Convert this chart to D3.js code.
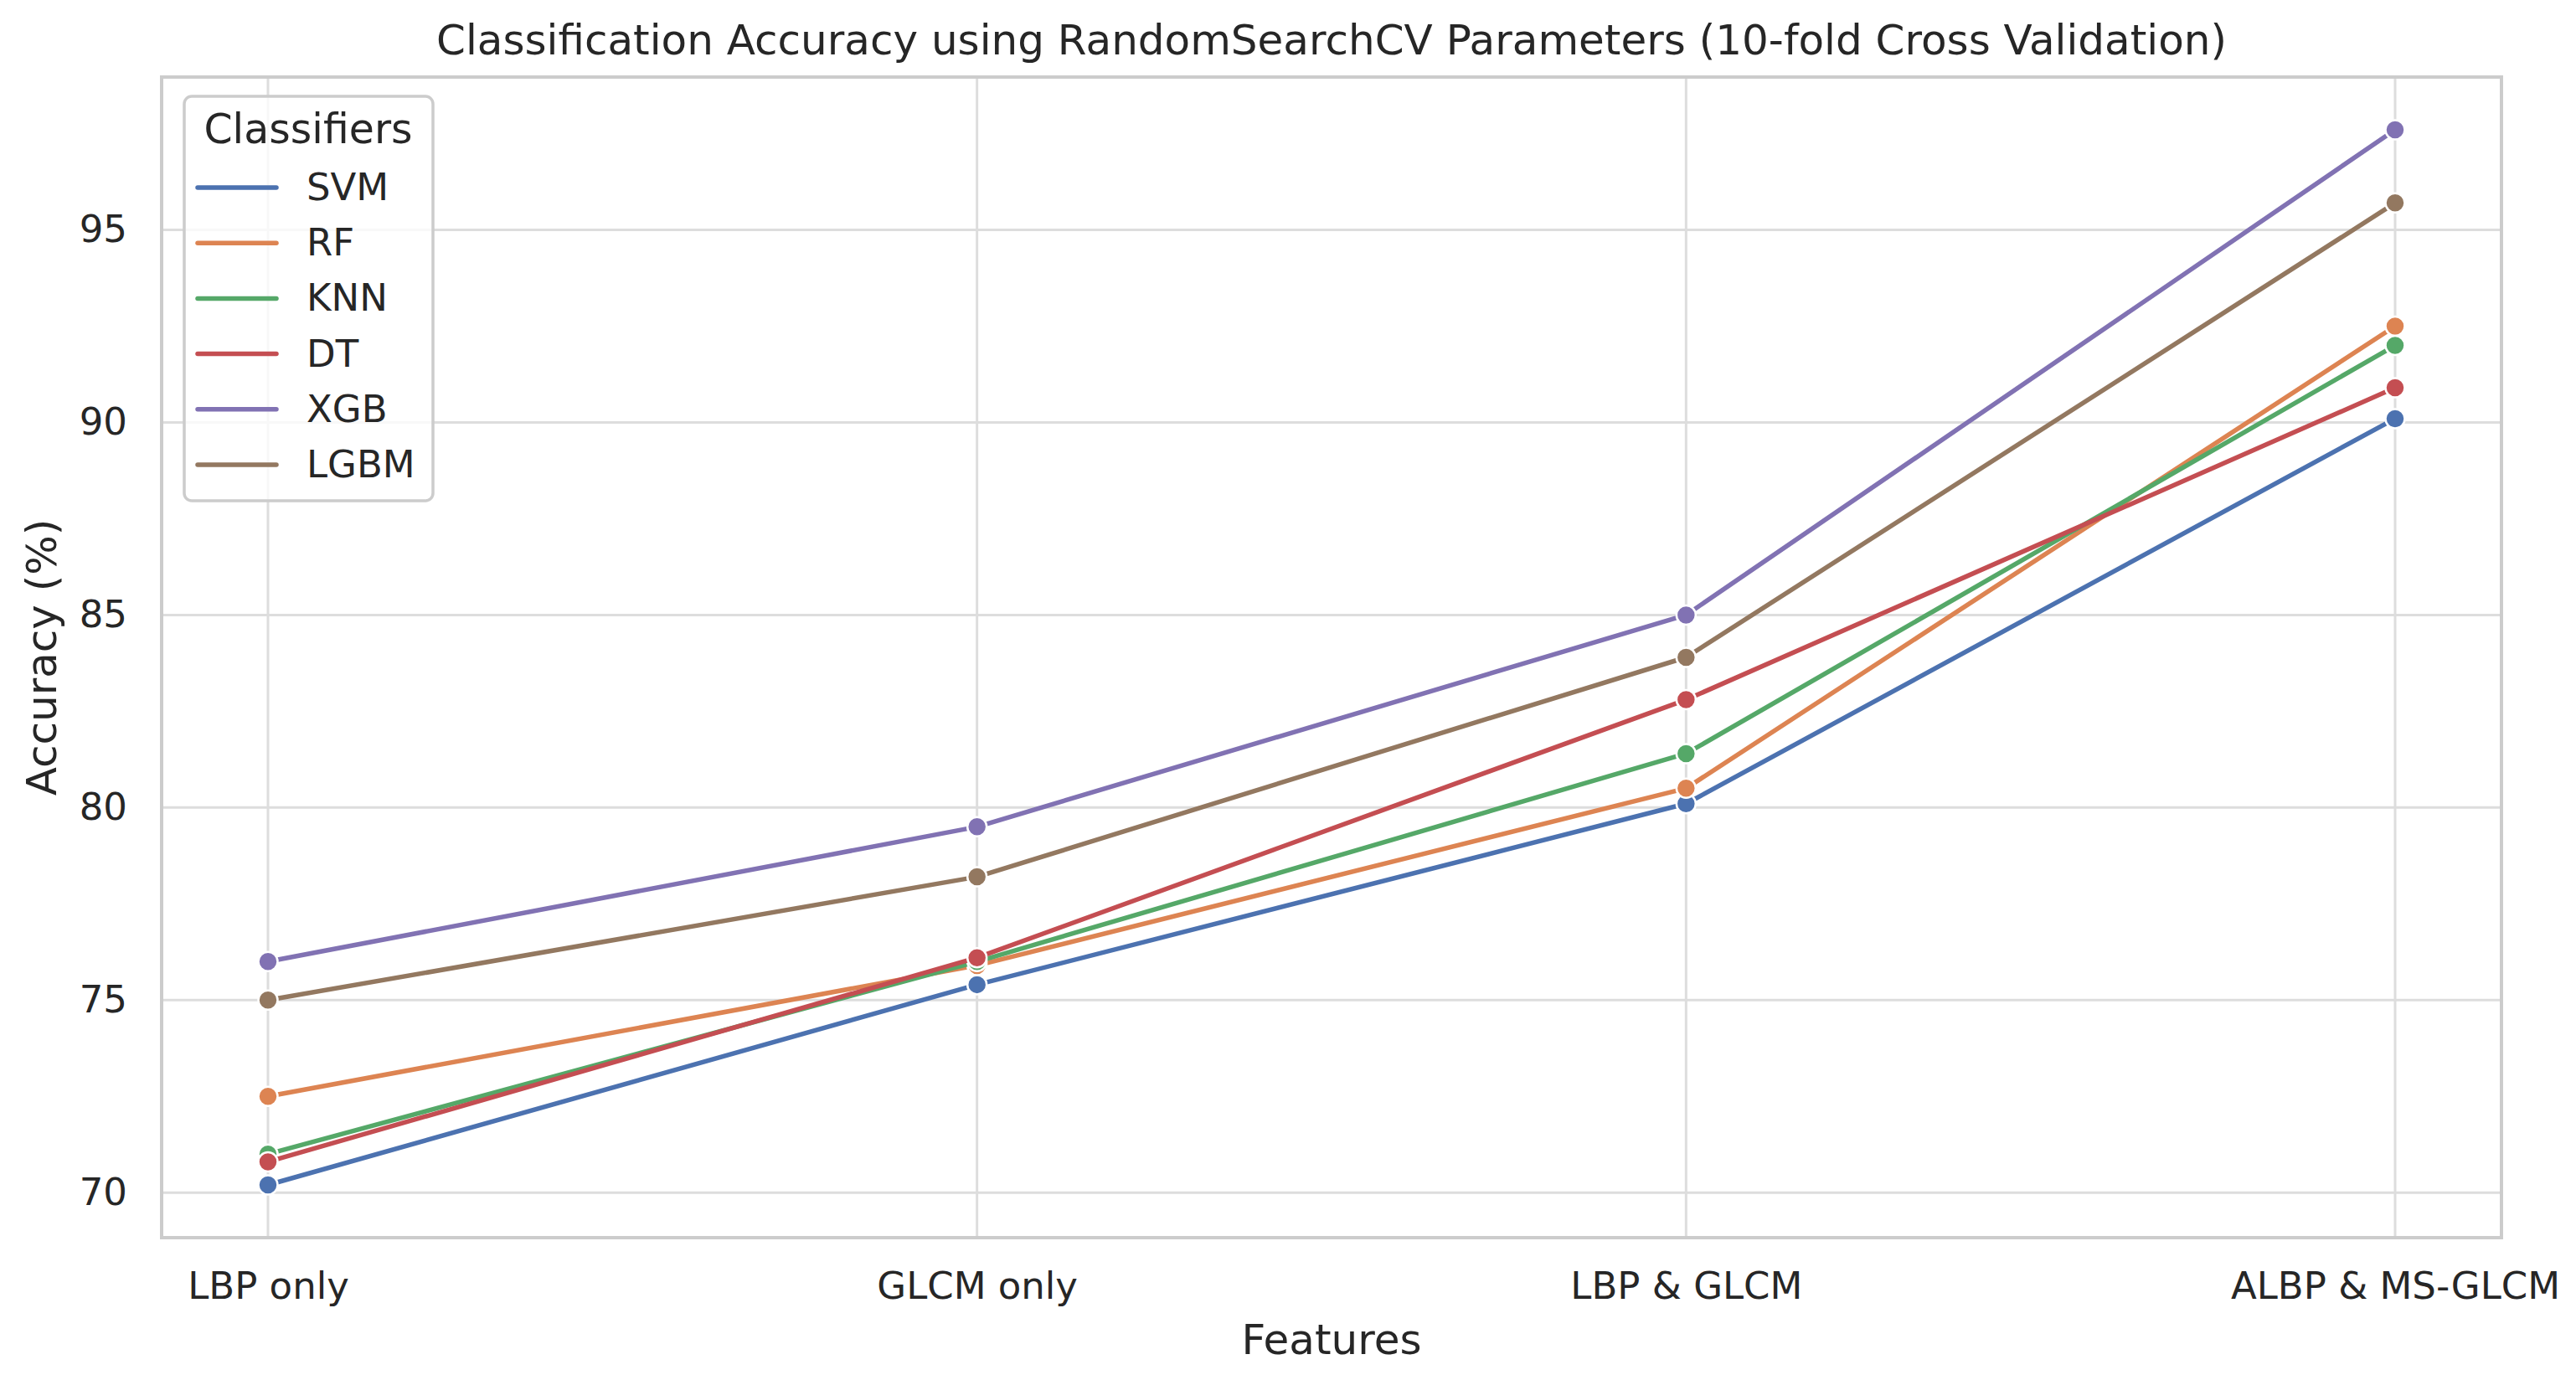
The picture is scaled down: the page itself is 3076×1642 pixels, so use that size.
<!DOCTYPE html>
<html>
<head>
<meta charset="utf-8">
<script src="https://cdn.jsdelivr.net/npm/d3@7"></script>
<style>
  html, body { margin: 0; padding: 0; background: #ffffff; }
  svg { display: block; }
  text { font-family: "DejaVu Sans", sans-serif; fill: #262626; }
</style>
</head>
<body>
<svg id="chart" width="3076" height="1642"></svg>
<script>
const categories = ["LBP only", "GLCM only", "LBP & GLCM", "ALBP & MS-GLCM"];
const seriesNames = ["SVM", "RF", "KNN", "DT", "XGB", "LGBM"];
const svmValues  = [70.2, 75.4, 80.1, 90.1];
const rfValues   = [72.5, 75.9, 80.5, 92.5];
const knnValues  = [71.0, 76.0, 81.4, 92.0];
const dtValues   = [70.8, 76.1, 82.8, 90.9];
const xgbValues  = [76.0, 79.5, 85.0, 97.6];
const lgbmValues = [75.0, 78.2, 83.9, 95.7];
const yTicks = [70, 75, 80, 85, 90, 95];
const colors = ["#4C72B0", "#DD8452", "#55A868", "#C44E52", "#8172B3", "#937860"];
const titleText = "Classification Accuracy using RandomSearchCV Parameters (10-fold Cross Validation)";
const xLabel = "Features";
const yLabel = "Accuracy (%)";
const legendTitle = "Classifiers";

(function () {
const seriesValues = [svmValues, rfValues, knnValues, dtValues, xgbValues, lgbmValues];
const series = seriesNames.map((name, i) => ({
  name, color: colors[i],
  points: categories.map((c, j) => ({ cat: c, value: seriesValues[i][j] }))
}));

const pL = 193, pR = 2987, pT = 92, pB = 1478;
const allVals = seriesValues.flat();
const vmin = d3.min(allVals), vmax = d3.max(allVals);
const pad = (vmax - vmin) * 0.05;

const x = d3.scalePoint().domain(categories).range([pL, pR]).padding(0.15);
const y = d3.scaleLinear().domain([vmin - pad, vmax + pad]).range([pB, pT]);

const svg = d3.select("#chart");

// grid
const grid = svg.append("g");
grid.selectAll("line.hy").data(yTicks).join("line")
  .attr("class", "hy")
  .attr("x1", pL).attr("x2", pR)
  .attr("y1", d => y(d)).attr("y2", d => y(d))
  .attr("stroke", "#dddddd").attr("stroke-width", 3);
grid.selectAll("line.vx").data(categories).join("line")
  .attr("class", "vx")
  .attr("x1", d => x(d)).attr("x2", d => x(d))
  .attr("y1", pT).attr("y2", pB)
  .attr("stroke", "#dddddd").attr("stroke-width", 3);

// axes (labels via d3 axis)
const yAxis = svg.append("g").attr("transform", `translate(${pL},0)`)
  .call(d3.axisLeft(y).tickValues(yTicks).tickSize(0).tickPadding(41).tickFormat(d3.format("d")));
yAxis.select(".domain").remove();
yAxis.selectAll("text").attr("font-size", 45).attr("fill", "#262626")
  .attr("font-family", "DejaVu Sans, sans-serif");

const xAxis = svg.append("g").attr("transform", `translate(0,${pB})`)
  .call(d3.axisBottom(x).tickSize(0).tickPadding(41));
xAxis.select(".domain").remove();
xAxis.selectAll("text").attr("font-size", 45).attr("fill", "#262626")
  .attr("font-family", "DejaVu Sans, sans-serif");

// spines
svg.append("rect").attr("x", pL).attr("y", pT)
  .attr("width", pR - pL).attr("height", pB - pT)
  .attr("fill", "none").attr("stroke", "#cccccc").attr("stroke-width", 4);

// lines and markers
const line = d3.line().x(d => x(d.cat)).y(d => y(d.value));
series.forEach(s => {
  const g = svg.append("g");
  g.append("path").datum(s.points).attr("d", line)
    .attr("fill", "none").attr("stroke", s.color).attr("stroke-width", 5.5)
    .attr("stroke-linejoin", "round").attr("stroke-linecap", "round");
  g.selectAll("circle").data(s.points).join("circle")
    .attr("cx", d => x(d.cat)).attr("cy", d => y(d.value)).attr("r", 11.5)
    .attr("fill", s.color).attr("stroke", "#ffffff").attr("stroke-width", 2.5);
});

// title & axis labels
svg.append("text").attr("x", (pL + pR) / 2).attr("y", 65)
  .attr("text-anchor", "middle").attr("font-size", 50).text(titleText);
svg.append("text").attr("x", (pL + pR) / 2).attr("y", 1617)
  .attr("text-anchor", "middle").attr("font-size", 50).text(xLabel);
svg.append("text").attr("transform", `translate(67,${(pT + pB) / 2}) rotate(-90)`)
  .attr("text-anchor", "middle").attr("font-size", 50).text(yLabel);

// legend
const lg = svg.append("g");
lg.append("rect").attr("x", 220).attr("y", 115).attr("width", 297).attr("height", 483)
  .attr("rx", 9).attr("fill", "#ffffff").attr("fill-opacity", 0.8)
  .attr("stroke", "#cccccc").attr("stroke-width", 3.5);
lg.append("text").attr("x", 368).attr("y", 171).attr("text-anchor", "middle")
  .attr("font-size", 49).text(legendTitle);
series.forEach((s, i) => {
  const ly = 224 + i * 66.2;
  lg.append("line").attr("x1", 236).attr("x2", 330).attr("y1", ly).attr("y2", ly)
    .attr("stroke", s.color).attr("stroke-width", 5.5).attr("stroke-linecap", "round");
  lg.append("text").attr("x", 366).attr("y", ly + 15).attr("font-size", 45).text(s.name);
});
})();
</script>
</body>
</html>
